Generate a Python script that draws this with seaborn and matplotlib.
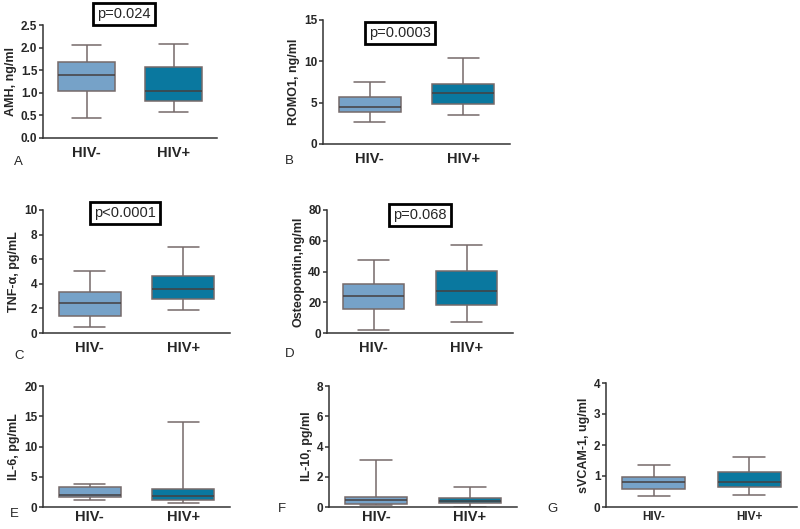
import numpy as np
import pandas as pd
import matplotlib
matplotlib.use("Agg")
import matplotlib.pyplot as plt
import seaborn as sns

sns.set_theme(style="ticks")
plt.rcParams['font.family'] = ['Liberation Sans', 'DejaVu Sans']

groups = ["HIV-", "HIV+"]
# five-number summaries: [min whisker, Q1, median, Q3, max whisker]
amh_neg = [0.45, 1.05, 1.39, 1.68, 2.06]
amh_pos = [0.58, 0.82, 1.04, 1.57, 2.07]
romo_neg = [2.70, 3.87, 4.44, 5.65, 7.46]
romo_pos = [3.47, 4.84, 6.17, 7.22, 10.44]
tnf_neg = [0.49, 1.41, 2.45, 3.34, 5.08]
tnf_pos = [1.90, 2.77, 3.61, 4.65, 7.01]
opn_neg = [1.7, 15.8, 23.8, 31.8, 47.4]
opn_pos = [7.4, 18.4, 27.0, 40.2, 57.3]
il6_neg = [1.19, 1.62, 2.00, 3.24, 3.84]
il6_pos = [0.70, 1.14, 1.84, 3.03, 14.05]
il10_neg = [0.13, 0.22, 0.43, 0.69, 3.13]
il10_pos = [0.02, 0.24, 0.39, 0.61, 1.32]
svcam_neg = [0.37, 0.59, 0.81, 0.98, 1.35]
svcam_pos = [0.40, 0.65, 0.81, 1.13, 1.62]

ylabels = ["AMH, ng/ml", "ROMO1, ng/ml", "TNF-\u03b1, pg/mL", "Osteopontin,ng/ml",
           "IL-6, pg/mL", "IL-10, pg/ml", "sVCAM-1, ug/ml"]
ymax = [2.5, 15, 10, 80, 20, 8, 4]
yticks = [[0.0, 0.5, 1.0, 1.5, 2.0, 2.5], [0, 5, 10, 15], [0, 2, 4, 6, 8, 10],
          [0, 20, 40, 60, 80], [0, 5, 10, 15, 20], [0, 2, 4, 6, 8], [0, 1, 2, 3, 4]]
ytick_fmt = ["{:.1f}", "{:.0f}", "{:.0f}", "{:.0f}", "{:.0f}", "{:.0f}", "{:.0f}"]
letters = ["A", "B", "C", "D", "E", "F", "G"]
pvalues = ["p=0.024", "p=0.0003", "p<0.0001", "p=0.068", None, None, None]
data_neg = [amh_neg, romo_neg, tnf_neg, opn_neg, il6_neg, il10_neg, svcam_neg]
data_pos = [amh_pos, romo_pos, tnf_pos, opn_pos, il6_pos, il10_pos, svcam_pos]

W, H = 800, 529
fig = plt.figure(figsize=(W / 100, H / 100), dpi=100)

# pixel rects: left, top, right, bottom
rects = [(43, 25, 217, 138), (323, 20, 510, 144), (43, 210, 230, 333),
         (327, 210, 513, 333), (43, 386, 230, 507), (329, 386, 517, 507),
         (606, 383, 797, 507)]
letter_pos = [(14, 162), (285, 161), (14, 356), (285, 354), (10, 514), (278, 509), (547, 509)]
p_pos = [(124, 14), (400, 33), (125, 213), (420, 215)]
xpad = [6, 6, 6, 6, 2.5, 2.5, 3]

colors = ["#76a2c8", "#0a789f"]
line_c = "#756a6a"

for i in range(7):
    l, t, r, b = rects[i]
    ax = fig.add_axes([l / W, 1 - b / H, (r - l) / W, (b - t) / H])
    df = pd.DataFrame({
        "group": [groups[0]] * 5 + [groups[1]] * 5,
        "value": list(data_neg[i]) + list(data_pos[i]),
    })
    sns.boxplot(data=df, x="group", y="value", hue="group", palette=colors,
                order=groups, whis=(0, 100), width=0.66, linewidth=1.1,
                saturation=1, linecolor=line_c, showfliers=False, legend=False, ax=ax,
                boxprops=dict(edgecolor=line_c), whiskerprops=dict(color=line_c),
                capprops=dict(color=line_c), medianprops=dict(color="#454040"))
    ax.set_xlim(-0.5, 1.5)
    ax.set_ylim(0, ymax[i])
    ax.set_yticks(yticks[i])
    ax.set_yticklabels([ytick_fmt[i].format(v) for v in yticks[i]],
                       fontsize=8.5, fontweight="bold")
    small = (i == 6)
    ax.set_xticks([0, 1])
    ax.set_xticklabels(groups, fontsize=8.5 if small else 10.5, fontweight="bold")
    ax.tick_params(axis="x", length=0, pad=xpad[i])
    ax.tick_params(axis="y", length=3, width=1.1, pad=1, color="#333333")
    ax.set_xlabel("")
    ax.set_ylabel(ylabels[i], fontsize=9, fontweight="bold", labelpad=3)
    for s in ["top", "right"]:
        ax.spines[s].set_visible(False)
    for s in ["left", "bottom"]:
        ax.spines[s].set_linewidth(1.1)
        ax.spines[s].set_color("#333333")
    ax.patch.set_alpha(0)
    lx, ly = letter_pos[i]
    fig.text(lx / W, 1 - ly / H, letters[i], fontsize=9.5, ha="left", va="center")
    if pvalues[i]:
        px, py = p_pos[i]
        fig.text(px / W, 1 - py / H, pvalues[i], fontsize=10.5, ha="center", va="center",
                 bbox=dict(boxstyle="square,pad=0.3", fc="white", ec="black", lw=2))

fig.savefig("out.png", dpi=100, facecolor="white")
